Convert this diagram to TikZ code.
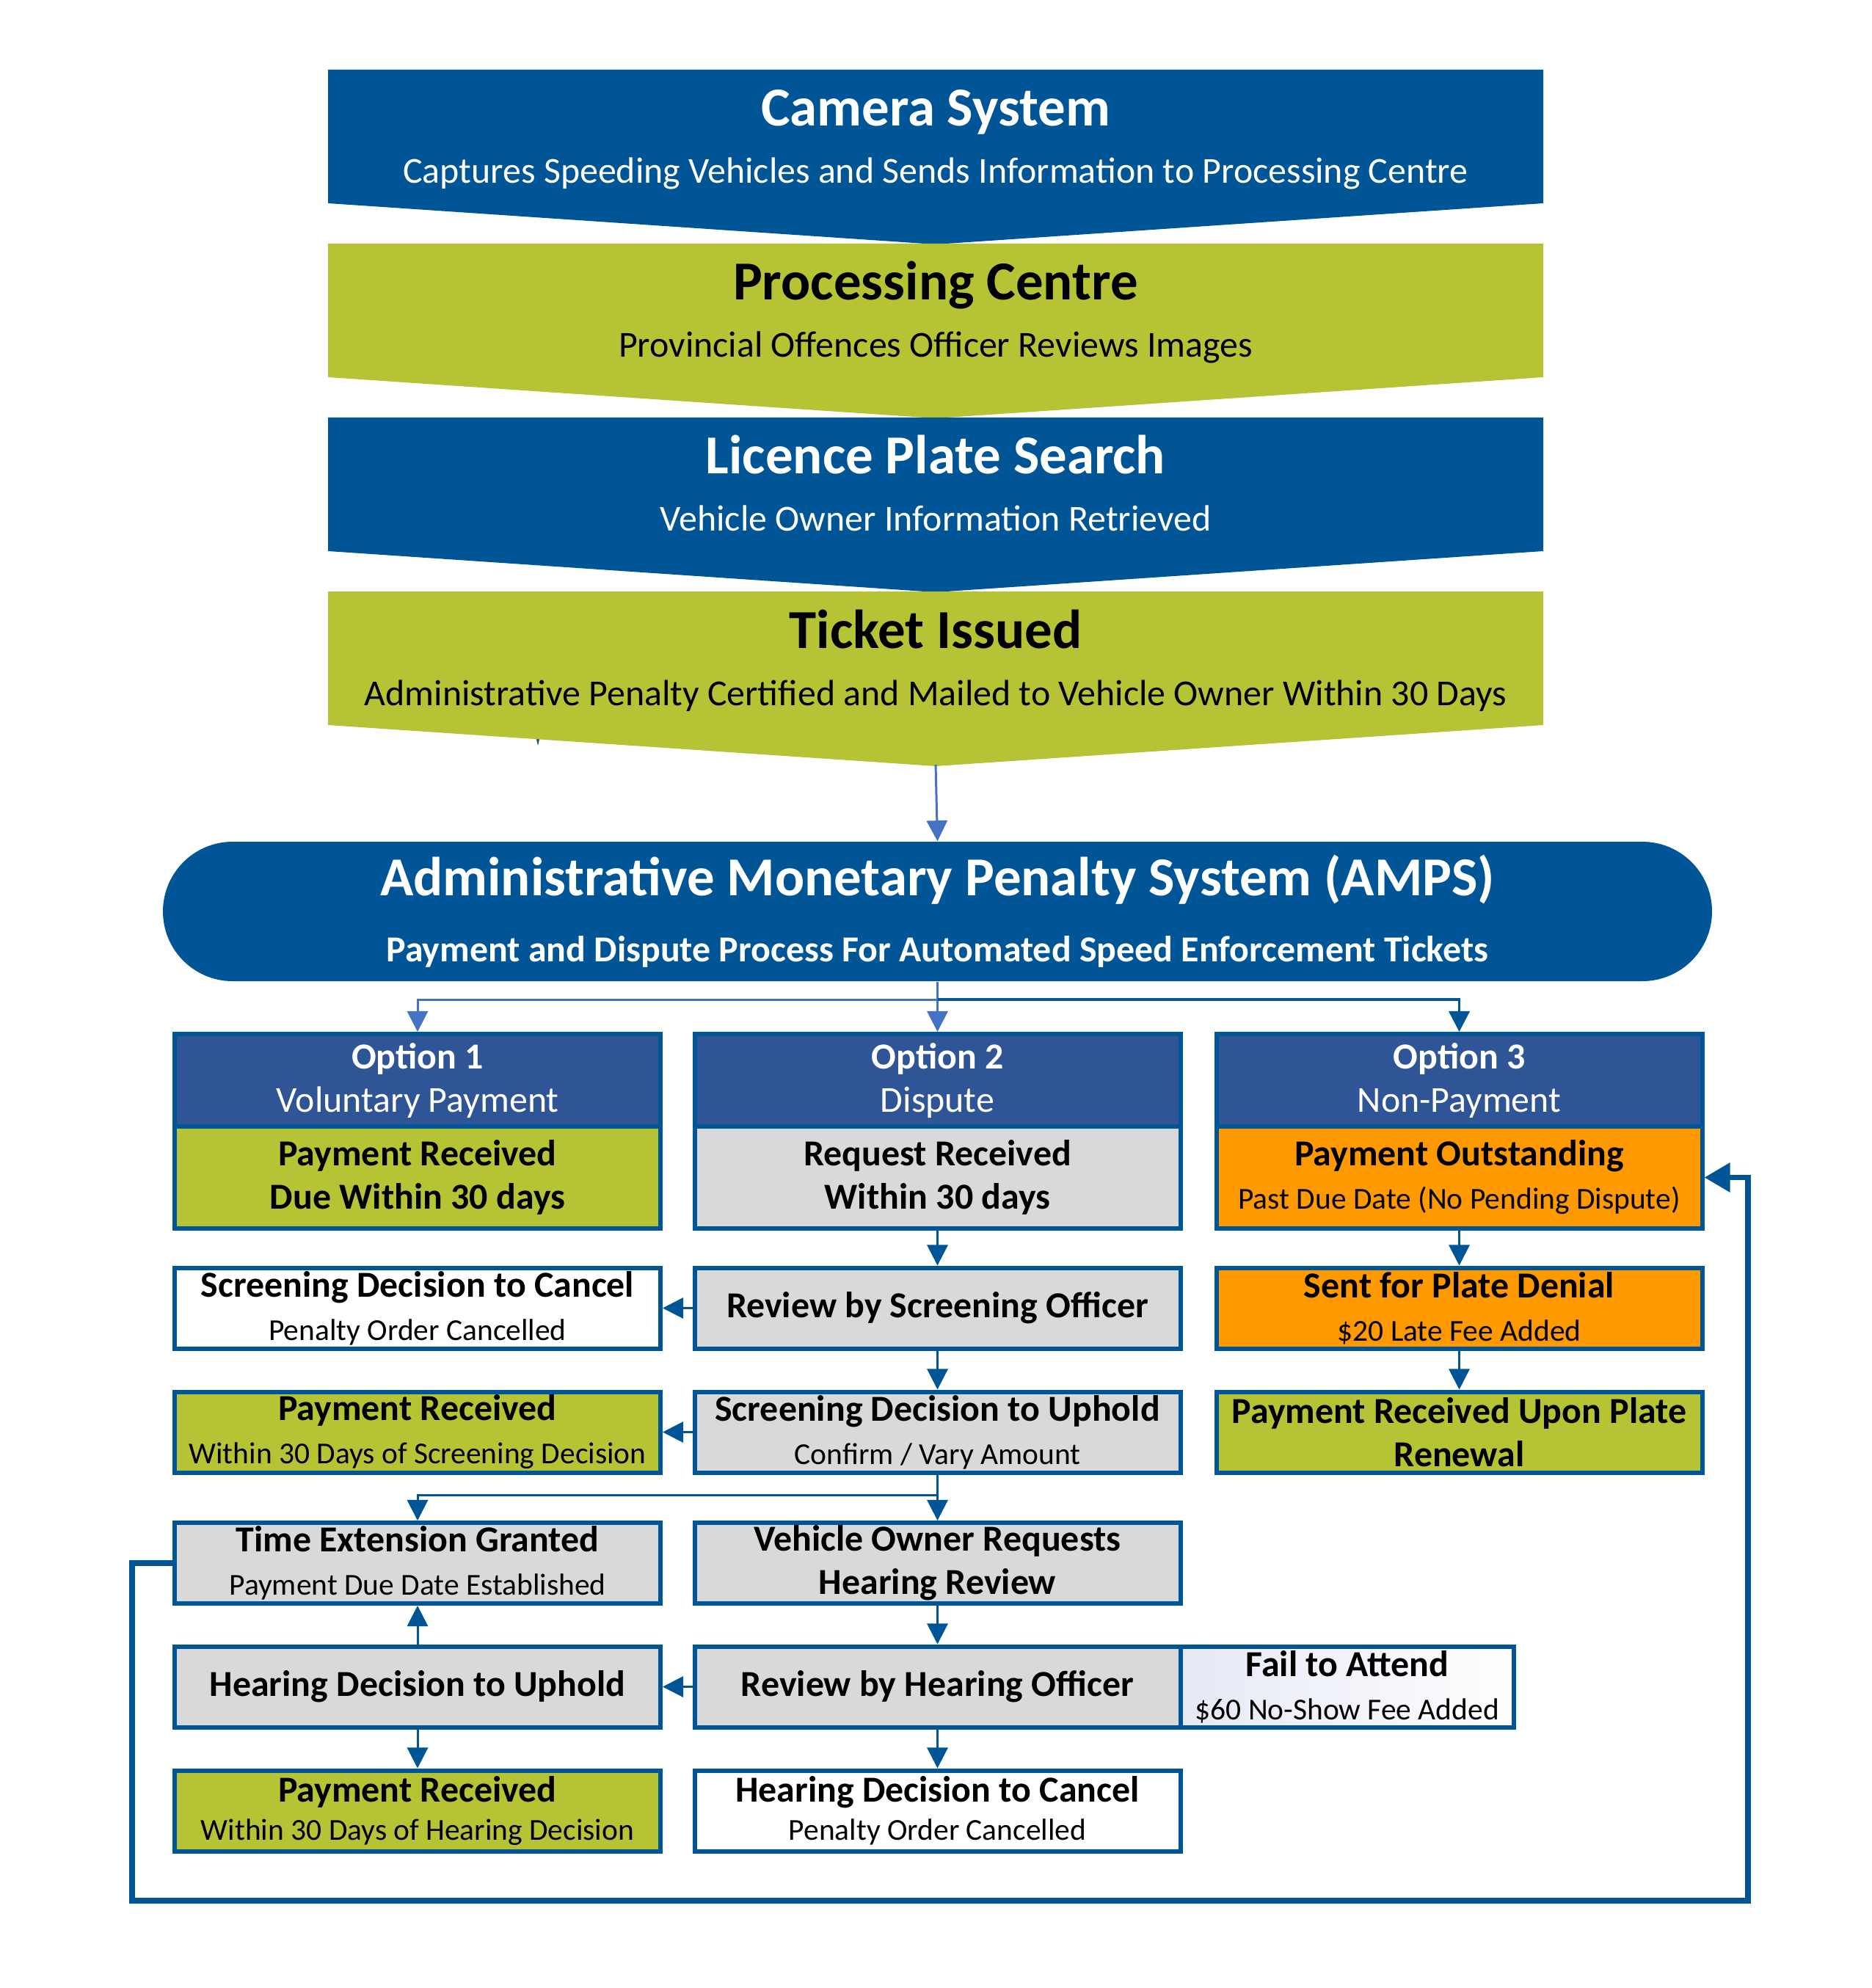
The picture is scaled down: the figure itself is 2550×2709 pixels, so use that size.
\documentclass[tikz,border=0pt]{standalone}
\usepackage{fontspec}
\setmainfont{Carlito}
\usetikzlibrary{arrows.meta,shapes.misc}
\definecolor{dblue}{HTML}{005596}
\definecolor{hblue}{HTML}{2F5597}
\definecolor{lgreen}{HTML}{B5C334}
\definecolor{lgrey}{HTML}{D9D9D9}
\definecolor{orng}{HTML}{FF9900}
\definecolor{lblue}{HTML}{4472C4}
\definecolor{lav}{HTML}{E6E8F5}
\newcommand\smtxt[1]{{\fontsize{11.8}{16.8}\selectfont #1}}
\begin{document}
\begin{tikzpicture}[x=0.1mm,y=-0.1mm,
  bx/.style={draw=dblue,line width=1.7pt,inner sep=0pt,minimum width=66.2mm,minimum height=11mm,align=center,font=\fontsize{14.2}{16.8}\selectfont},
  hd/.style={bx,fill=hblue,text=white,minimum height=12.6mm},
  rtwo/.style={bx,minimum height=13.9mm},
  arr/.style={draw=dblue,line width=0.85pt,-{Triangle[width=8pt,length=8pt]}},
  larr/.style={draw=lblue,line width=0.85pt,-{Triangle[width=8pt,length=8pt]}},
  ctitle/.style={anchor=base,font=\fontsize{21.3}{25}\selectfont\bfseries,inner sep=0pt},
  csub/.style={anchor=base,font=\fontsize{14.2}{16.8}\selectfont,inner sep=0pt}]
\useasboundingbox (0,0) rectangle (2550,2709);

% small stray arrowhead under ticket chevron
\fill[dblue] (727,990) -- (739,990) -- (733,1016) -- cycle;

% chevrons
\fill[dblue] (447,95) -- (2103,95) -- (2103,277) -- (1275,333) -- (447,277) -- cycle;
\fill[lgreen] (447,332) -- (2103,332) -- (2103,514) -- (1275,570) -- (447,514) -- cycle;
\fill[dblue] (447,569) -- (2103,569) -- (2103,751) -- (1275,807) -- (447,751) -- cycle;
\fill[lgreen] (447,806) -- (2103,806) -- (2103,988) -- (1275,1044) -- (447,988) -- cycle;
\coordinate (tickettip) at (1275,1042);

\node[ctitle,text=white] (camT) at (1275,172) {Camera System};
\node[csub,text=white] (camS) at (1275,250) {Captures Speeding Vehicles and Sends Information to Processing Centre};
\node[ctitle] (proT) at (1275,409) {Processing Centre};
\node[csub] (proS) at (1275,487) {Provincial Offences Officer Reviews Images};
\node[ctitle,text=white] (licT) at (1275,646) {Licence Plate Search};
\node[csub,text=white] (licS) at (1275,724) {Vehicle Owner Information Retrieved};
\node[ctitle] (tikT) at (1275,883) {Ticket Issued};
\node[csub] (tikS) at (1275,961) {Administrative Penalty Certified and Mailed to Vehicle Owner Within 30 Days};

% AMPS
\node[rounded rectangle,fill=dblue,minimum width=211.1mm,minimum height=19mm,inner sep=0pt] (amps) at (1277.5,1242) {};
\node[ctitle,text=white] (ampsT) at (1277.5,1220) {Administrative Monetary Penalty System (AMPS)};
\node[csub,text=white,font=\fontsize{14.2}{16.8}\selectfont\bfseries] (ampsS) at (1277.5,1310) {Payment and Dispute Process For Automated Speed Enforcement Tickets};
\draw[larr] (tickettip) -- (amps.north);

% headers and first row
\node[hd] (h1) at (569,1472) {\textbf{Option 1}\\Voluntary Payment};
\node[hd] (h2) at (1277.5,1472) {\textbf{Option 2}\\Dispute};
\node[hd] (h3) at (1988.5,1472) {\textbf{Option 3}\\Non-Payment};
\node[rtwo,fill=lgreen] (r2c1) at (569,1604.5) {\textbf{Payment Received}\\\textbf{Due Within 30 days}};
\node[rtwo,fill=lgrey] (r2c2) at (1277.5,1604.5) {\textbf{Request Received}\\\textbf{Within 30 days}};
\node[rtwo,fill=orng] (r2c3) at (1988.5,1604.5) {\textbf{Payment Outstanding}\\\smtxt{Past Due Date (No Pending Dispute)}};

% branch from AMPS
\coordinate (br) at (1277.5,1362);
\draw[lblue,line width=0.85pt] (amps.south) -- (br);
\draw[larr] (br) -| (h1.north);
\draw[larr] (br) -- (h2.north);
\draw[arr,line width=1.1pt] (br) -| (h3.north);

% row 3
\node[bx,fill=white] (r3c1) at (569,1782.5) {\textbf{Screening Decision to Cancel}\\\smtxt{Penalty Order Cancelled}};
\node[bx,fill=lgrey] (r3c2) at (1277.5,1782.5) {\textbf{Review by Screening Officer}};
\node[bx,fill=orng] (r3c3) at (1988.5,1782.5) {\textbf{Sent for Plate Denial}\\\smtxt{\$20 Late Fee Added}};
% row 4
\node[bx,fill=lgreen] (r4c1) at (569,1951.5) {\textbf{Payment Received}\\\smtxt{Within 30 Days of Screening Decision}};
\node[bx,fill=lgrey] (r4c2) at (1277.5,1951.5) {\textbf{Screening Decision to Uphold}\\\smtxt{Confirm / Vary Amount}};
\node[bx,fill=lgreen] (r4c3) at (1988.5,1951.5) {\textbf{Payment Received Upon Plate}\\\textbf{Renewal}};
% row 5
\node[bx,fill=lgrey] (r5c1) at (569,2130) {\textbf{Time Extension Granted}\\\smtxt{Payment Due Date Established}};
\node[bx,fill=lgrey] (r5c2) at (1277.5,2130) {\textbf{Vehicle Owner Requests}\\\textbf{Hearing Review}};
% row 6
\node[bx,minimum width=45.45mm,left color=lav,right color=white] (fail) at (1835.75,2298.5) {\textbf{Fail to Attend}\\\smtxt{\$60 No-Show Fee Added}};
\node[bx,fill=lgrey] (r6c1) at (569,2298.5) {\textbf{Hearing Decision to Uphold}};
\node[bx,fill=lgrey] (r6c2) at (1277.5,2298.5) {\textbf{Review by Hearing Officer}};
% row 7
\node[bx,fill=lgreen] (r7c1) at (569,2467.5) {\textbf{Payment Received}\\[-2pt]\smtxt{Within 30 Days of Hearing Decision}};
\node[bx,fill=white] (r7c2) at (1277.5,2467.5) {\textbf{Hearing Decision to Cancel}\\[-2pt]\smtxt{Penalty Order Cancelled}};

% connectors
\draw[arr] (r2c2.south) -- (r3c2.north);
\draw[arr] (r3c2.south) -- (r4c2.north);
\draw[arr] (r3c2.west) -- (r3c1.east);
\draw[arr] (r4c2.west) -- (r4c1.east);
\coordinate (sp) at (1277.5,2037);
\draw[arr] (r4c2.south) -- (r5c2.north);
\draw[arr] (sp) -| (r5c1.north);
\draw[arr] (r5c2.south) -- (r6c2.north);
\draw[arr] (r6c2.west) -- (r6c1.east);
\draw[arr] (r6c1.north) -- (r5c1.south);
\draw[arr] (r6c1.south) -- (r7c1.north);
\draw[arr] (r6c2.south) -- (r7c2.north);
\draw[arr] (r2c3.south) -- (r3c3.north);
\draw[arr] (r3c3.south) -- (r4c3.north);

% loop back to Payment Outstanding
\draw[dblue,line width=2.2pt,-{Triangle[width=11pt,length=10pt]}] (r5c1.west) -| (180,2590) -- (2382,2590) |- (r2c3.east);
\end{tikzpicture}
\end{document}
